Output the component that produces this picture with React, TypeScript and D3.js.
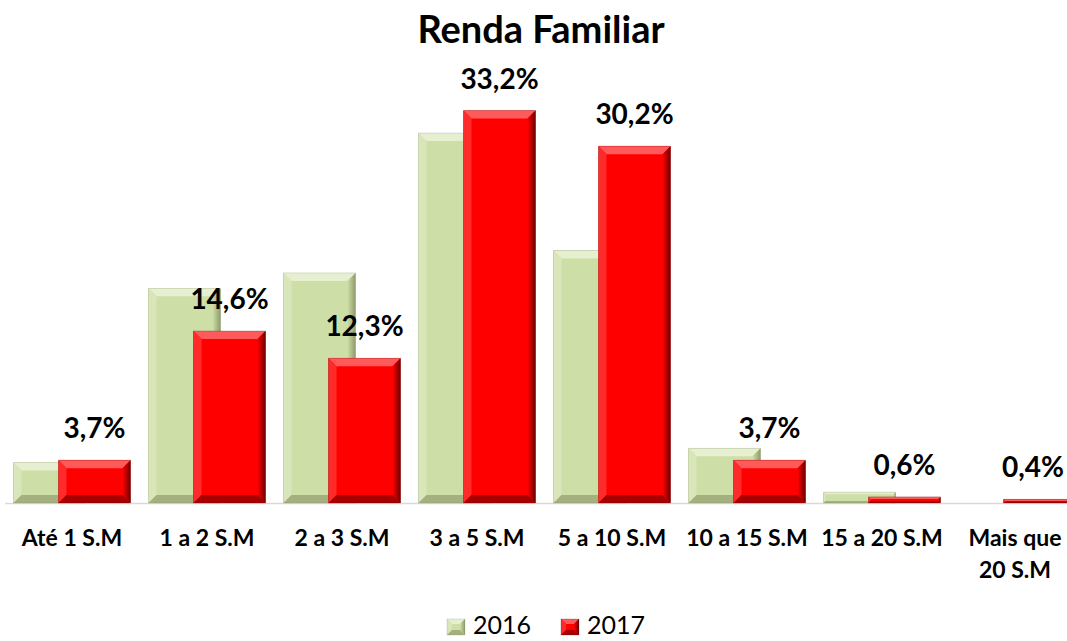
import * as d3 from 'd3';

const CATEGORIES = [
  ['Até 1 S.M'],
  ['1 a 2 S.M'],
  ['2 a 3 S.M'],
  ['3 a 5 S.M'],
  ['5 a 10 S.M'],
  ['10 a 15 S.M'],
  ['15 a 20 S.M'],
  ['Mais que', '20 S.M'],
];
const VALUES_2016 = [3.5, 18.2, 19.5, 31.3, 21.4, 4.7, 1.0, 0];
const VALUES_2017 = [3.7, 14.6, 12.3, 33.2, 30.2, 3.7, 0.6, 0.4];
const SERIES = ['2016', '2017'];

const W = 1067;
const H = 641;
const FONT = 'Lato, "Open Sans", sans-serif';

const PALETTE: Record<string, { face: string; top: string; left: string; right: string; bottom: string; edge: string }> = {
  '2016': {
    face: '#cddea6',
    top: '#e6efcf',
    left: '#d9e6b9',
    right: '#8f9a6c',
    bottom: '#a5b07f',
    edge: '#6f7a50',
  },
  '2017': {
    face: '#ff0000',
    top: '#ff5a5a',
    left: '#ff2a2a',
    right: '#6a0000',
    bottom: '#a80000',
    edge: '#400000',
  },
};

function BevelRect({ x, y, w, h, series, b = 8 }: { x: number; y: number; w: number; h: number; series: string; b?: number }) {
  if (h <= 0) return null;
  const c = PALETTE[series];
  const bv = Math.min(b, w / 2, h / 2);
  const pts = (p: number[][]) => p.map((d) => d.join(',')).join(' ');
  const gid = `grad-${series}`;
  return (
    <g>
      <rect x={x} y={y} width={w} height={h} fill={c.face} />
      <polygon points={pts([[x, y], [x + w, y], [x + w - bv, y + bv], [x + bv, y + bv]])} fill={c.top} />
      <polygon points={pts([[x, y], [x + bv, y + bv], [x + bv, y + h - bv], [x, y + h]])} fill={c.left} />
      <polygon points={pts([[x, y + h], [x + w, y + h], [x + w - bv, y + h - bv], [x + bv, y + h - bv]])} fill={c.bottom} />
      <polygon points={pts([[x + w, y], [x + w, y + h], [x + w - bv, y + h - bv], [x + w - bv, y + bv]])} fill={`url(#${gid})`} />
      <rect x={x} y={y} width={w} height={h} fill="none" stroke={c.edge} strokeOpacity={0.25} strokeWidth={0.8} />
    </g>
  );
}

export default function App() {
  const x0 = d3
    .scaleBand<number>()
    .domain(d3.range(CATEGORIES.length))
    .range([4.5, 1084.5])
    .paddingInner(0.1333)
    .paddingOuter(0.0667);
  const groupW = x0.bandwidth();
  const barW = groupW * (72 / 117);
  const shift = groupW - barW;

  const y = d3.scaleLinear().domain([0, 35]).range([504, 504 - 35 * 11.85]);
  const baseY = 503;

  const data = [VALUES_2016, VALUES_2017];

  return (
    <svg
      width={W}
      height={H}
      style={{ position: 'absolute', left: 0, top: 0, background: '#fff' }}
      fontFamily={FONT}
    >
      <defs>
        {SERIES.map((s) => (
          <linearGradient key={s} id={`grad-${s}`} x1="0" x2="1" y1="0" y2="0">
            <stop offset="0%" stopColor={PALETTE[s].face} />
            <stop offset="100%" stopColor={PALETTE[s].right} />
          </linearGradient>
        ))}
      </defs>

      <text x={541} y={43} textAnchor="middle" fontSize={38} fontWeight={700} fill="#000">
        Renda Familiar
      </text>

      <line x1={5} x2={W} y1={baseY + 0.5} y2={baseY + 0.5} stroke="#d9d9d9" strokeWidth={1.5} />

      {SERIES.map((s, si) => (
        <g key={s}>
          {data[si].map((v, i) => {
            const bx = (x0(i) ?? 0) + si * shift;
            const top = Math.min(y(v), baseY - (v > 0 ? 3 : 0));
            return <BevelRect key={i} x={bx} y={top} w={barW} h={baseY - top} series={s} b={v < 2 ? 2 : 8} />;
          })}
        </g>
      ))}

      {VALUES_2017.map((v, i) => {
        // keep the last label inside the frame
        const cx = Math.min((x0(i) ?? 0) + shift + barW / 2, W - 34);
        const top = Math.min(y(v), baseY - 3);
        return (
          <text key={i} x={cx} y={top - 22} textAnchor="middle" fontSize={28} fontWeight={700} fill="#000">
            {String(v.toFixed(1)).replace('.', ',')}%
          </text>
        );
      })}

      {CATEGORIES.map((lines, i) => {
        const cx = Math.min((x0(i) ?? 0) + groupW / 2, W - 52);
        return (
          <text key={i} x={cx} y={546} textAnchor="middle" fontSize={23} fontWeight={700} fill="#000">
            {lines.map((l, li) => (
              <tspan key={li} x={cx} dy={li === 0 ? 0 : 32}>
                {l}
              </tspan>
            ))}
          </text>
        );
      })}

      <g>
        {SERIES.map((s, si) => {
          const lx = 447 + si * 114;
          return (
            <g key={s}>
              <BevelRect x={lx} y={619} w={18} h={16} series={s} b={5} />
              <text x={lx + 26} y={634} fontSize={25} fill="#000">
                {s}
              </text>
            </g>
          );
        })}
      </g>
    </svg>
  );
}
